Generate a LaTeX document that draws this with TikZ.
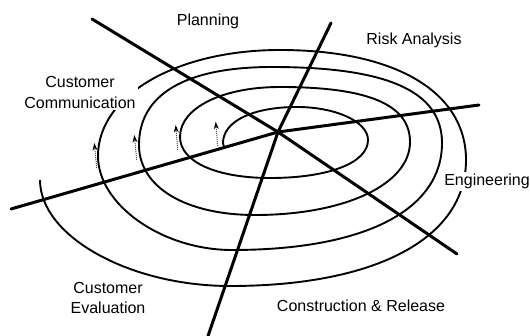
\documentclass[tikz,border=0pt]{standalone}
\usepackage{fontspec}
\setmainfont{Liberation Sans}
\usetikzlibrary{arrows.meta}
\begin{document}
\begin{tikzpicture}[x=1pt,y=-1pt,
  axisline/.style={line width=3pt,line cap=round},
  spiralline/.style={line width=1.9pt},
  turnarrow/.style={line width=1pt,densely dotted,black!70,-{Stealth[length=7.5pt,width=5pt,black]}},
  lbl/.style={font=\fontsize{16}{20.5}\selectfont,inner sep=2pt,fill=white,align=center}]
\useasboundingbox (0,0) rectangle (530,336);
% centre and axis ends
\coordinate (O) at (278,132);
\coordinate (nw) at (92,19);
\coordinate (n) at (331,23);
\coordinate (e) at (479,105);
\coordinate (se) at (457,254);
\coordinate (s) at (208,336);
\coordinate (w) at (11,209);
\draw[axisline] (O) -- (nw);
\draw[axisline] (O) -- (n);
\draw[axisline] (O) -- (e);
\draw[axisline] (O) -- (se);
\draw[axisline] (O) -- (s);
\draw[axisline] (O) -- (w);
% spiral
\draw[spiralline] (224,147) -- (223,143)
  .. controls (223,121.4) and (252.6,107) .. (297,107)
  .. controls (336.05,107) and (368,121.85) .. (368,140)
  .. controls (368,162.8) and (328.8,178) .. (270,178)
  .. controls (216,178) and (180,161.6) .. (180,137)
  .. controls (180,108) and (222,87) .. (280,87)
  .. controls (368.4,87) and (410,104.6) .. (410,142)
  .. controls (410,184.3) and (344.9,215) .. (255,215)
  .. controls (185.4,215) and (139,187) .. (139,145)
  .. controls (139,94.3) and (185.55,67) .. (272,67)
  .. controls (387.6,67) and (442,91.3) .. (442,143)
  .. controls (442,210.4) and (364.3,250) .. (232,250)
  .. controls (162.3,250) and (98,204.9) .. (98,156)
  .. controls (98,95.6) and (176.3,50) .. (280,50)
  .. controls (395.3,50) and (466,91.8) .. (466,160)
  .. controls (466,238.1) and (376.3,286) .. (230,286)
  .. controls (129.3,286) and (40,236.2) .. (40,180);
% direction arrows
\coordinate (a1t) at (96.7,168); \coordinate (a1h) at (94.3,143);
\coordinate (a2t) at (136.7,160); \coordinate (a2h) at (134.3,135);
\coordinate (a3t) at (177.7,150); \coordinate (a3h) at (175.7,125);
\coordinate (a4t) at (217.7,146); \coordinate (a4h) at (215.7,121.7);
\draw[turnarrow] (a1t) -- (a1h);
\draw[turnarrow] (a2t) -- (a2h);
\draw[turnarrow] (a3t) -- (a3h);
\draw[turnarrow] (a4t) -- (a4h);
% labels
\node[lbl,anchor=base] (plan) at (208,26) {Planning};
\node[lbl,anchor=base] (risk) at (414,45) {Risk Analysis};
\node[lbl,anchor=base] (eng) at (487,186) {Engineering};
\node[lbl,anchor=base] (cons) at (361,312) {Construction \& Release};
\node[lbl] (cc) at (80,92.5) {Customer\\Communication};
\node[lbl] (ce) at (108,298) {Customer\\Evaluation};
\end{tikzpicture}
\end{document}
